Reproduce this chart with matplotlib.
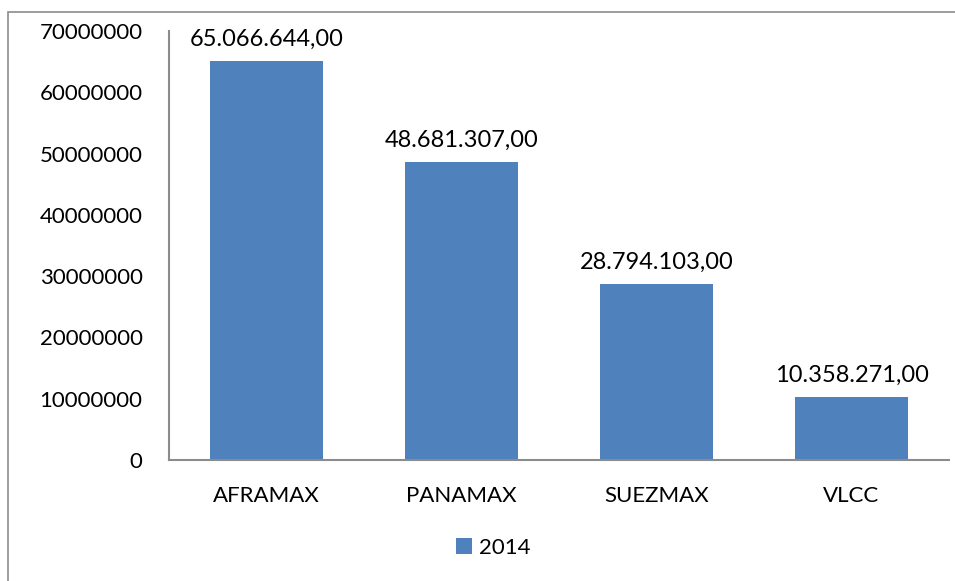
import matplotlib
matplotlib.use('Agg')
import matplotlib.pyplot as plt
from matplotlib.patches import Rectangle

categories = ['AFRAMAX', 'PANAMAX', 'SUEZMAX', 'VLCC']
values_2014 = [65066644.00, 48681307.00, 28794103.00, 10358271.00]
value_labels = ['65.066.644,00', '48.681.307,00', '28.794.103,00', '10.358.271,00']
yticks = [0, 10000000, 20000000, 30000000, 40000000, 50000000, 60000000, 70000000]

BAR_COLOR = '#4F81BD'
plt.rcParams['font.family'] = ['Lato', 'DejaVu Sans']

fig = plt.figure(figsize=(9.55, 5.81), dpi=100)
# outer chart border (left/top visible in the reference)
fig.patches.append(Rectangle((8 / 955, -0.01), 1.0, (581 - 12) / 581 + 0.01,
                             transform=fig.transFigure, fill=False,
                             edgecolor='#8c8c8c', linewidth=1.2))

ax = fig.add_axes([169 / 955, (581 - 460) / 581, (949 - 169) / 955, (460 - 31) / 581])
x = range(len(categories))
bars = ax.bar(x, values_2014, width=0.575, color=BAR_COLOR, label='2014', zorder=2)

for xi, v, lab in zip(x, values_2014, value_labels):
    ax.text(xi, v + 1800000, lab, ha='center', va='bottom', fontsize=17, color='black')

ax.set_xlim(-0.5, len(categories) - 0.5)
ax.set_ylim(0, 70000000)
ax.set_yticks(yticks)
ax.set_yticklabels([str(t) for t in yticks])
ax.set_xticks(list(x))
ax.set_xticklabels(categories)
ax.tick_params(axis='both', length=0, labelsize=16)
ax.tick_params(axis='y', pad=19)
ax.tick_params(axis='x', pad=19)

for s in ['top', 'right']:
    ax.spines[s].set_visible(False)
for s in ['left', 'bottom']:
    ax.spines[s].set_color('#8c8c8c')
    ax.spines[s].set_linewidth(1.5)

ax.legend(loc='center', bbox_to_anchor=(493 / 955, (581 - 548) / 581),
          bbox_transform=fig.transFigure, frameon=False, fontsize=16,
          handlelength=0.75, handleheight=0.75, handletextpad=0.3)

fig.savefig('out.png', dpi=100)
